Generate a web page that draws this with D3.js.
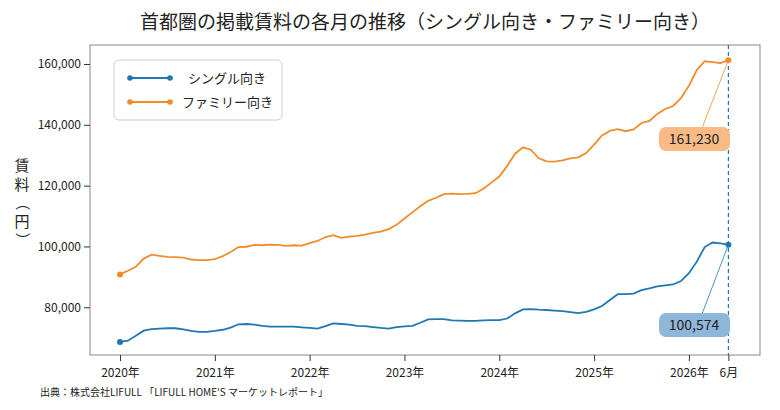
<!DOCTYPE html>
<html><head><meta charset="utf-8">
<script src="https://cdn.jsdelivr.net/npm/d3@7"></script>
<style>body{margin:0;background:#fff;font-family:"Noto Sans CJK JP","Noto Sans",sans-serif;}</style>
</head><body>
<svg id="chart" width="780" height="410"></svg>
<script>
"use strict";

// Data: monthly, Jan 2020 .. Jun 2026
var startYear = 2020;
var singleRent = [68600,69000,70600,72300,72800,73000,73100,73100,72700,72200,71900,71900,
  72200,72600,73300,74400,74500,74300,73900,73600,73600,73600,73600,73400,
  73200,73000,73800,74700,74500,74300,73900,73800,73500,73200,73000,73500,
  73700,73900,74900,76000,76100,76100,75700,75600,75500,75500,75700,75800,
  75800,76300,78000,79300,79400,79200,79100,78900,78700,78400,78100,78500,
  79300,80400,82400,84300,84300,84500,85600,86200,86900,87200,87500,88600,
  91200,95000,99800,101300,101000,100574];
var familyRent = [90800,92000,93300,96000,97300,96900,96600,96500,96300,95700,95500,95500,
  95800,96800,98200,99800,99900,100500,100400,100600,100500,100200,100400,100300,
  101100,101800,103100,103700,102800,103200,103500,103900,104500,104900,105700,107100,
  109200,111200,113200,115000,116000,117200,117400,117200,117300,117500,119000,121000,
  123000,126500,130500,132600,131800,129000,128000,127900,128300,129000,129300,130700,
  133500,136500,138000,138600,137900,138500,140600,141300,143600,145200,146200,148800,
  152800,158000,160900,160600,160300,161230];
var seriesNames = ["シングル向き", "ファミリー向き"];
var yTicks = [80000, 100000, 120000, 140000, 160000];
var xTickYears = [2020, 2021, 2022, 2023, 2024, 2025, 2026];
var lastMonthLabel = "6月";

var colors = ["#1f77b4", "#f08c2a"];
var boxFill = ["#8fb7da", "#f9bb86"];

var svg = d3.select("#chart");
var m = {left: 90, right: 20, top: 45, bottom: 55};
var W = 780, H = 410;

var x = d3.scaleLinear().domain([-3.8, 81]).range([m.left, W - m.right]);
var y = d3.scaleLinear().domain([64300, 166250]).range([H - m.bottom, m.top]);

// title
svg.append("text").attr("x", 425).attr("y", 29).attr("text-anchor", "middle")
  .attr("font-size", 19).attr("fill", "#222")
  .text("首都圏の掲載賃料の各月の推移（シングル向き・ファミリー向き）");

// frame
svg.append("rect").attr("x", m.left).attr("y", m.top)
  .attr("width", W - m.left - m.right).attr("height", H - m.top - m.bottom)
  .attr("fill", "none").attr("stroke", "#888").attr("stroke-width", 1);

// axes
var yAxis = svg.append("g").attr("transform", "translate(" + m.left + ",0)")
  .call(d3.axisLeft(y).tickValues(yTicks).tickFormat(d3.format(",")).tickSizeOuter(0));
var xVals = xTickYears.map(function (yr) { return (yr - startYear) * 12; }).concat([77]);
var xAxis = svg.append("g").attr("transform", "translate(0," + (H - m.bottom) + ")")
  .call(d3.axisBottom(x).tickValues(xVals).tickSizeOuter(0)
    .tickFormat(function (d) { return d === 77 ? lastMonthLabel : (startYear + d / 12) + "年"; }));
[xAxis, yAxis].forEach(function (g) {
  g.select(".domain").remove();
  g.selectAll("line").attr("stroke", "#333");
  g.selectAll("text").attr("font-size", 12).attr("fill", "#222")
    .attr("font-family", "'Noto Sans CJK JP','Noto Sans',sans-serif");
});
xAxis.selectAll("text").attr("dy", "1.1em");

// y label, vertical
var yLabel = "賃料（円）";
var labelG = svg.append("g");
yLabel.split("").forEach(function (ch, i) {
  var isParen = (ch === "（" || ch === "）");
  var t = labelG.append("text").attr("font-size", 15).attr("fill", "#222")
    .attr("text-anchor", "middle").text(ch);
  var cy = 166 + i * 18.5;
  if (isParen) t.attr("transform", "translate(22," + cy + ") rotate(90)").attr("dy", "0.35em");
  else t.attr("x", 22).attr("y", cy).attr("dy", "0.35em");
});

// vertical dashed line at last month
svg.append("line").attr("x1", x(77)).attr("x2", x(77)).attr("y1", m.top).attr("y2", H - m.bottom)
  .attr("stroke", colors[0]).attr("stroke-width", 1.2).attr("stroke-dasharray", "4,3");

var line = d3.line().x(function (d, i) { return x(i); }).y(function (d) { return y(d); });
var data = [singleRent, familyRent];
data.forEach(function (s, k) {
  svg.append("path").datum(s).attr("d", line).attr("fill", "none")
    .attr("stroke", colors[k]).attr("stroke-width", 1.8);
  [0, s.length - 1].forEach(function (i) {
    svg.append("circle").attr("cx", x(i)).attr("cy", y(s[i])).attr("r", 3).attr("fill", colors[k]);
  });
});

// annotations of last values
var boxY = [325, 139];
data.forEach(function (s, k) {
  var v = s[s.length - 1];
  var bx = 694, by = boxY[k];
  svg.append("line").attr("x1", bx + 8).attr("y1", by - 11)
    .attr("x2", x(77)).attr("y2", y(v)).attr("stroke", colors[k]).attr("stroke-width", 0.8);
  svg.append("rect").attr("x", bx - 35).attr("y", by - 12).attr("width", 71).attr("height", 24)
    .attr("rx", 7).attr("fill", boxFill[k]);
  svg.append("text").attr("x", bx).attr("y", by).attr("dy", "0.36em").attr("text-anchor", "middle")
    .attr("font-size", 14).attr("fill", "#222").text(d3.format(",")(v));
});

// legend
var lg = svg.append("g");
lg.append("rect").attr("x", 114).attr("y", 60).attr("width", 168).attr("height", 60)
  .attr("rx", 5).attr("fill", "#fff").attr("stroke", "#ccc");
seriesNames.forEach(function (n, k) {
  var ly = 78 + k * 24;
  lg.append("line").attr("x1", 130).attr("x2", 170).attr("y1", ly).attr("y2", ly)
    .attr("stroke", colors[k]).attr("stroke-width", 1.8);
  lg.append("circle").attr("cx", 130).attr("cy", ly).attr("r", 2.8).attr("fill", colors[k]);
  lg.append("circle").attr("cx", 170).attr("cy", ly).attr("r", 2.8).attr("fill", colors[k]);
  lg.append("text").attr("x", k === 0 ? 188 : 182).attr("y", ly).attr("dy", "0.35em")
    .attr("font-size", 13).attr("fill", "#222").text(n);
});

// source
svg.append("text").attr("x", 40).attr("y", 396).attr("font-size", 10).attr("fill", "#222")
  .text("出典：株式会社LIFULL 「LIFULL HOME'S マーケットレポート」");
</script>
</body></html>
